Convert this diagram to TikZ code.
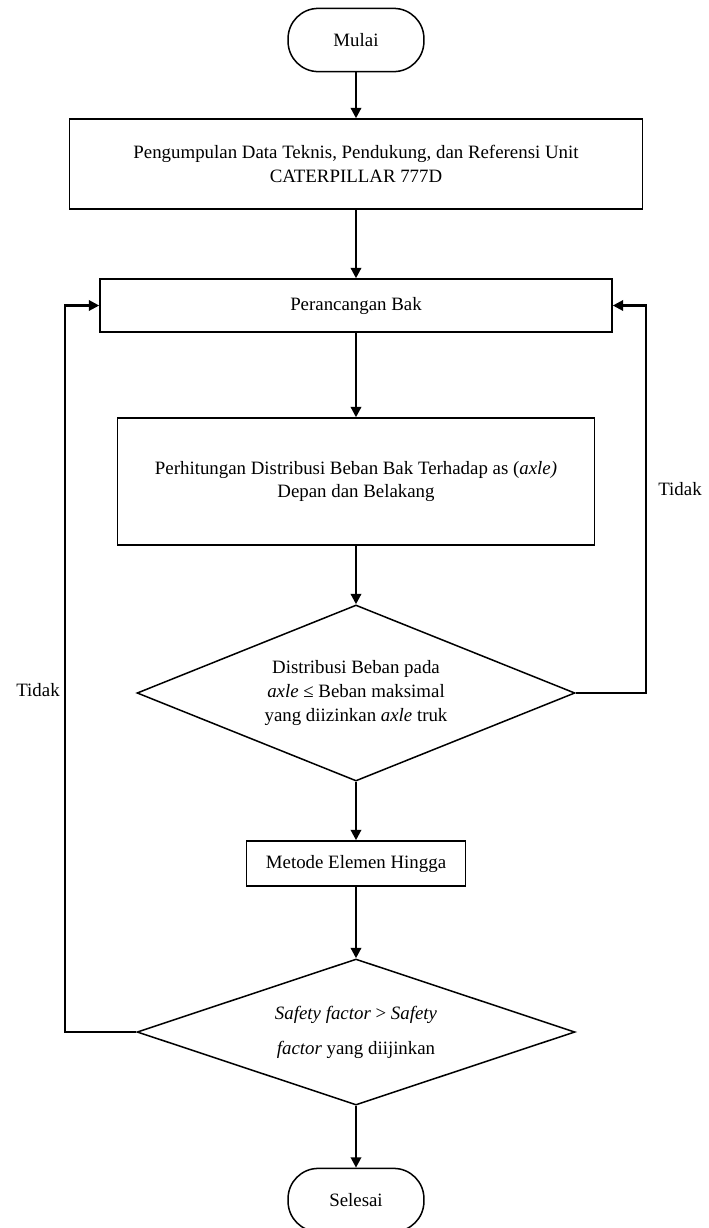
\documentclass[tikz,border=0pt]{standalone}
\usepackage{fontspec}
\setmainfont{Liberation Serif}
\usetikzlibrary{shapes.geometric,arrows.meta}
\begin{document}
\begin{tikzpicture}[x=0.53pt,y=-0.53pt,
  every node/.style={font=\fontsize{10}{12.5}\selectfont},
  proses/.style={draw,line width=0.8pt,align=center},
  terminal/.style={draw,line width=0.8pt,rounded corners=16pt,minimum width=72pt,minimum height=33.5pt},
  keputusan/.style={draw,diamond,line width=0.8pt,align=center,inner sep=0pt},
  alur/.style={-{Triangle[length=5.5pt,width=5.5pt]},line width=1.2pt}]
\useasboundingbox (0,0) rectangle (708,1228);
     %flow:
\node (mulai) at (356,40) [terminal] {Mulai};
\node (data) at (356,164) [proses,minimum width=303.7pt,minimum height=47.7pt] {Pengumpulan Data Teknis, Pendukung, dan Referensi Unit\\CATERPILLAR 777D};
\node (rancang) at (356,305.5) [proses,minimum width=271.4pt,minimum height=28.1pt] {Perancangan Bak};
\node (hitung) at (356,481.5) [proses,minimum width=252.8pt,minimum height=67.3pt] {Perhitungan Distribusi Beban Bak Terhadap as (\textit{axle)}\\Depan dan Belakang};
\node (cekaxle) at (356,693) [keputusan,shape aspect=2.5,minimum width=232.1pt,minimum height=93.3pt] {Distribusi Beban pada\\\textit{axle} ≤ Beban maksimal\\yang diizinkan \textit{axle} truk};
\node (fem) at (356,863.5) [proses,minimum width=116.1pt,minimum height=23.9pt] {Metode Elemen Hingga};
\node (ceksf) at (356,1032) [keputusan,shape aspect=3,minimum width=232.1pt,minimum height=77.4pt] {\textit{Safety factor} > \textit{Safety}\\[6pt]\textit{factor} yang diijinkan};
\node (selesai) at (356,1200) [terminal] {Selesai};

\draw [alur] (mulai) -- (data);
\draw [alur] (data) -- (rancang);
\draw [alur] (rancang) -- (hitung);
\draw [alur] (hitung) -- (cekaxle);
\draw [alur] (cekaxle) -- (fem);
\draw [alur] (fem) -- (ceksf);
\draw [alur] (ceksf) -- (selesai);

   %loops:
\draw [alur] (cekaxle.east) -- ++(70,0) |- (rancang.east);
\draw [alur] (ceksf.west) -- ++(-71,0) |- (rancang.west);
\node (tidakkanan) at (680,489) {Tidak};
\node (tidakkiri) at (38,690) {Tidak};
\end{tikzpicture}
\end{document}
